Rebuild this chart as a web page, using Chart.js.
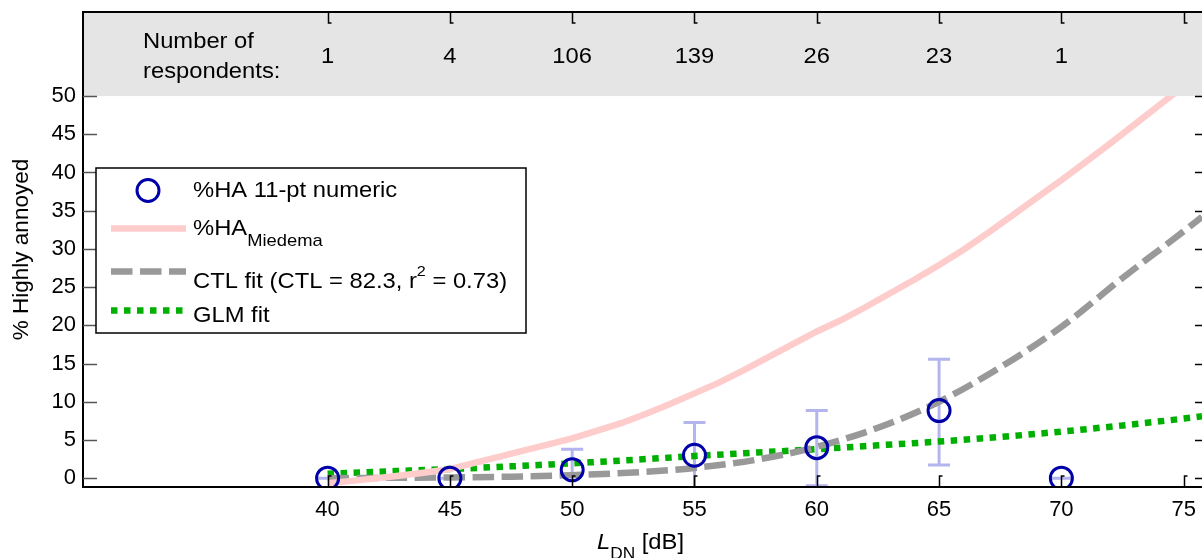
<!DOCTYPE html>
<html>
<head>
<meta charset="utf-8">
<script src="https://cdn.jsdelivr.net/npm/chart.js@4.4.0/dist/chart.umd.min.js"></script>
<style>
  body { margin: 0; background: #fff; }
  #wrap { width: 1202px; height: 558px; }
</style>
</head>
<body>
<div id="wrap"><canvas id="chart" width="1202" height="558"></canvas></div>
<script>
// axis ticks
var xTicks = [40, 45, 50, 55, 60, 65, 70, 75];
var yTicks = [0, 5, 10, 15, 20, 25, 30, 35, 40, 45, 50];

// observed %HA per level bin
var levels = [40, 45, 50, 55, 60, 65, 70];
var respondents = [1, 4, 106, 139, 26, 23, 1];
var haObserved = [0, 0, 1.1, 3.0, 4.0, 8.85, 0];
var ciLow = [0, 0, 0.4, -2, -1.0, 1.74, 0];
var ciHigh = [0, 0, 3.8, 7.3, 8.85, 15.55, 0];

// Miedema curve
var miedemaX = [40, 41, 42, 43, 44, 45, 46, 47, 48, 49, 50, 51, 52, 53, 54, 55, 56, 57, 58, 59, 60,
  61, 62, 63, 64, 65, 66, 67, 68, 69, 70, 71, 72, 73, 74, 75, 76];
var miedemaY = [-0.65, -0.35, 0.0, 0.35, 0.75, 1.2, 2.0, 2.8, 3.6, 4.4, 5.2, 6.2, 7.2, 8.4, 9.7, 11.1,
  12.5, 14.1, 15.8, 17.5, 19.2, 20.7, 22.4, 24.2, 26.0, 27.9, 29.9, 32.1, 34.4, 36.7, 39.0,
  41.4, 43.8, 46.3, 48.8, 51.3, 53.8];

// CTL fit
var ctlX = [40, 42.5, 45, 47.5, 50, 52.5, 55, 57.5, 60, 62.5, 65, 67.5, 70, 72.5, 75, 75.75];
var ctlY = [0.0, 0.05, 0.1, 0.2, 0.4, 0.75, 1.35, 2.4, 4.1, 6.6, 10.0, 14.5, 19.8, 26.2, 32.3, 34.2];

// GLM fit
var glmX = [40, 42.5, 45, 47.5, 50, 52.5, 55, 57.5, 60, 62.5, 65, 67.5, 70, 72.5, 75, 75.75];
var glmY = [0.6, 0.9, 1.2, 1.55, 1.95, 2.4, 2.9, 3.35, 3.8, 4.3, 4.8, 5.4, 6.1, 6.9, 7.8, 8.1];

var FONT = '"Liberation Sans", Arial, sans-serif';
var BLUE = '#0000a8';
var PINK = '#ffcccc';
var GRAY = '#999999';
var GREEN = '#00b000';
var ERR = '#b4b4ee';
var SX = 1.08; // the original figure is a bit stretched sideways

function pts(xs, ys) {
  return xs.map(function (x, i) { return { x: x, y: ys[i] }; });
}

// draws text with the horizontal stretch, returns advance width
function txt(ctx, s, x, y, font, align) {
  ctx.save();
  ctx.font = font;
  ctx.textAlign = align || 'left';
  ctx.translate(x, y);
  ctx.scale(SX, 1);
  ctx.fillText(s, 0, 0);
  var w = ctx.measureText(s).width * SX;
  ctx.restore();
  return w;
}

var extras = {
  id: 'extras',
  beforeDatasetsDraw: function (chart) {
    var ctx = chart.ctx, xs = chart.scales.x, ys = chart.scales.y, a = chart.chartArea;
    ctx.save();
    ctx.beginPath();
    ctx.rect(a.left, a.top, a.right - a.left, a.bottom - a.top);
    ctx.clip();
    ctx.strokeStyle = ERR;
    ctx.lineWidth = 3;
    levels.forEach(function (lv, i) {
      var px = xs.getPixelForValue(lv);
      var lo = ys.getPixelForValue(ciLow[i]);
      var hi = ys.getPixelForValue(ciHigh[i]);
      ctx.beginPath();
      ctx.moveTo(px, lo); ctx.lineTo(px, hi);
      ctx.moveTo(px - 11, lo); ctx.lineTo(px + 11, lo);
      ctx.moveTo(px - 11, hi); ctx.lineTo(px + 11, hi);
      ctx.stroke();
    });
    ctx.restore();
  },
  afterDatasetsDraw: function (chart) {
    var ctx = chart.ctx, xs = chart.scales.x, ys = chart.scales.y, a = chart.chartArea;
    var y50 = ys.getPixelForValue(50);
    var f22 = '22px ' + FONT;
    ctx.save();

    // grey band with respondent counts
    ctx.fillStyle = '#e5e5e5';
    ctx.fillRect(a.left, a.top, a.right - a.left, y50 - a.top);
    ctx.fillStyle = '#000';
    ctx.textBaseline = 'middle';
    txt(ctx, 'Number of', 143, 42, f22);
    txt(ctx, 'respondents:', 143, 72, f22);
    levels.forEach(function (lv, i) {
      txt(ctx, String(respondents[i]), xs.getPixelForValue(lv), 57, f22, 'center');
    });

    // frame
    ctx.strokeStyle = '#000';
    ctx.lineWidth = 2;
    ctx.beginPath();
    ctx.moveTo(a.right + 2, a.top); ctx.lineTo(a.left, a.top);
    ctx.lineTo(a.left, a.bottom); ctx.lineTo(a.right + 2, a.bottom);
    ctx.stroke();

    // x ticks top and bottom
    ctx.lineWidth = 1.5;
    xTicks.forEach(function (v) {
      var px = Math.round(xs.getPixelForValue(v)) + 0.5;
      ctx.beginPath();
      ctx.moveTo(px, a.top); ctx.lineTo(px, a.top + 11); ctx.lineTo(px + 3, a.top + 11);
      ctx.moveTo(px, a.bottom); ctx.lineTo(px, a.bottom - 11); ctx.lineTo(px + 3, a.bottom - 11);
      ctx.stroke();
    });
    // y ticks left and right
    yTicks.forEach(function (v) {
      var py = Math.round(ys.getPixelForValue(v)) + 0.5;
      ctx.strokeStyle = '#555';
      ctx.beginPath();
      ctx.moveTo(a.left, py); ctx.lineTo(a.left + 14, py);
      ctx.stroke();
      ctx.strokeStyle = '#000';
      ctx.beginPath();
      ctx.moveTo(a.right - 7, py); ctx.lineTo(a.right, py);
      ctx.stroke();
    });

    // legend
    ctx.fillStyle = '#fff';
    ctx.fillRect(96, 168, 430, 165);
    ctx.strokeStyle = '#000';
    ctx.lineWidth = 1.5;
    ctx.strokeRect(96, 168, 430, 165);

    ctx.strokeStyle = BLUE;
    ctx.lineWidth = 3;
    ctx.beginPath();
    ctx.arc(148, 190.5, 11, 0, Math.PI * 2);
    ctx.stroke();

    ctx.lineWidth = 6.5;
    ctx.strokeStyle = PINK;
    ctx.beginPath(); ctx.moveTo(111, 228.5); ctx.lineTo(186, 228.5); ctx.stroke();
    ctx.strokeStyle = GRAY;
    ctx.setLineDash([21.5, 7.5]);
    ctx.beginPath(); ctx.moveTo(111, 271.5); ctx.lineTo(186, 271.5); ctx.stroke();
    ctx.strokeStyle = GREEN;
    ctx.setLineDash([6.5, 6.5]);
    ctx.beginPath(); ctx.moveTo(111, 310.5); ctx.lineTo(186, 310.5); ctx.stroke();
    ctx.setLineDash([]);

    ctx.fillStyle = '#000';
    ctx.textBaseline = 'alphabetic';
    txt(ctx, '%HA 11-pt numeric', 193, 197, f22);
    var w = txt(ctx, '%HA', 193, 235, f22);
    txt(ctx, 'Miedema', 193 + w, 246, '17px ' + FONT);
    w = txt(ctx, 'CTL fit (CTL = 82.3, r', 193, 288, f22);
    var w2 = txt(ctx, '2', 193 + w, 276, '15px ' + FONT);
    txt(ctx, ' = 0.73)', 193 + w + w2, 288, f22);
    txt(ctx, 'GLM fit', 193, 322, f22);

    // x axis title
    var tx = 597;
    tx += txt(ctx, 'L', tx, 549, 'italic 22px ' + FONT);
    tx += txt(ctx, 'DN', tx, 559, '16px ' + FONT);
    txt(ctx, ' [dB]', tx, 549, f22);

    ctx.restore();
  }
};

new Chart(document.getElementById('chart'), {
  type: 'scatter',
  data: {
    datasets: [
      {
        label: '%HA 11-pt numeric',
        data: pts(levels, haObserved),
        showLine: false,
        pointRadius: 11,
        pointBorderWidth: 3,
        pointBorderColor: BLUE,
        pointBackgroundColor: 'rgba(0,0,0,0)'
      },
      {
        label: '%HA Miedema',
        data: pts(miedemaX, miedemaY),
        showLine: true,
        borderColor: PINK,
        borderWidth: 6.5,
        pointRadius: 0,
        tension: 0
      },
      {
        label: 'CTL fit',
        data: pts(ctlX, ctlY),
        showLine: true,
        borderColor: GRAY,
        borderWidth: 6.5,
        borderDash: [21.5, 7.5],
        borderCapStyle: 'butt',
        pointRadius: 0,
        cubicInterpolationMode: 'monotone'
      },
      {
        label: 'GLM fit',
        data: pts(glmX, glmY),
        showLine: true,
        borderColor: GREEN,
        borderWidth: 6.5,
        borderDash: [6.5, 6.5],
        borderCapStyle: 'butt',
        pointRadius: 0,
        cubicInterpolationMode: 'monotone'
      }
    ]
  },
  options: {
    responsive: false,
    animation: false,
    devicePixelRatio: 1,
    layout: { autoPadding: false, padding: { top: 12, right: 0, bottom: 0, left: 0 } },
    plugins: { legend: { display: false }, tooltip: { enabled: false } },
    scales: {
      x: {
        type: 'linear',
        min: 30,
        max: 75.75,
        grid: { display: false, drawTicks: false },
        border: { display: false },
        ticks: { color: '#000', font: { size: 22, family: FONT }, padding: 10, maxRotation: 0 },
        afterBuildTicks: function (s) { s.ticks = xTicks.map(function (v) { return { value: v }; }); },
        afterFit: function (s) { s.height = 71; s.paddingLeft = 0; s.paddingRight = 0; }
      },
      y: {
        type: 'linear',
        min: -1.15,
        max: 61,
        grid: { display: false, drawTicks: false },
        border: { display: false },
        ticks: { color: '#000', font: { size: 22, family: FONT }, padding: 7 },
        title: {
          display: true,
          text: '% Highly annoyed',
          color: '#000',
          font: { size: 22.5, family: FONT },
          padding: { top: 8, bottom: 0 }
        },
        afterBuildTicks: function (s) { s.ticks = yTicks.map(function (v) { return { value: v }; }); },
        afterFit: function (s) { s.width = 83; s.paddingTop = 0; s.paddingBottom = 0; }
      }
    }
  },
  plugins: [extras]
});
</script>
</body>
</html>
